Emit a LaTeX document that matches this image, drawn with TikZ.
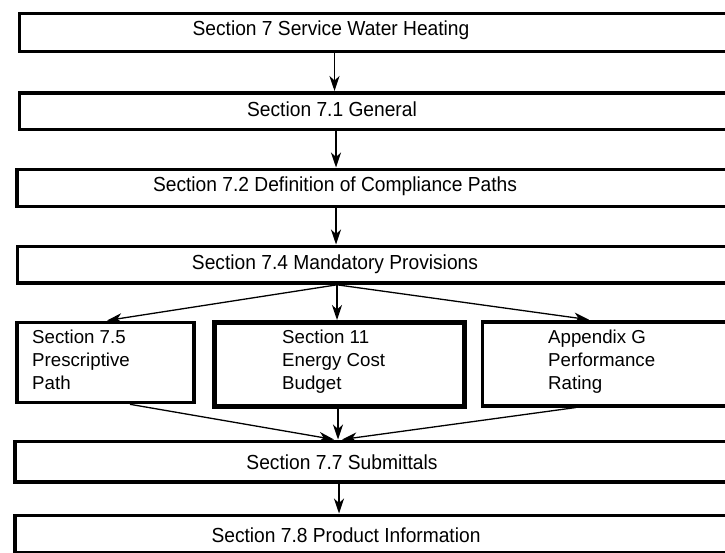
\documentclass[tikz,border=0pt]{standalone}
\usepackage{fontspec}
\setmainfont{Liberation Sans}
\usetikzlibrary{arrows.meta}
\begin{document}
\begin{tikzpicture}[x=1pt,y=-1pt,
  frame/.style={draw=black,line width=3.8pt,inner sep=0pt,anchor=north west,fill=white},
  heavyframe/.style={frame,line width=5pt},
  label/.style={inner sep=0pt,font=\fontsize{19.2pt}{23pt}\selectfont,yscale=1.06},
  stack/.style={inner sep=0pt,font=\fontsize{18.7pt}{23pt}\selectfont,align=left,anchor=north west},
  arr/.style={draw=black,line width=1.3pt,-{Stealth[length=15pt,width=10pt,inset=4.5pt]}}]
\useasboundingbox (0,0) rectangle (725,552);
\clip (0,0) rectangle (725,552);
% full-width stages (they run past the right edge)
\node[frame,minimum width=760pt,minimum height=38pt] (b1) at (17.5,11.5) {};
\node[frame,minimum width=760pt,minimum height=36.5pt] (b2) at (17.5,91) {};
\node[frame,minimum width=760pt,minimum height=37pt] (b3) at (15,167.5) {};
\node[frame,minimum width=760pt,minimum height=36.5pt] (b4) at (15.5,244.5) {};
\node[frame,minimum width=760pt,minimum height=40.5pt] (b7) at (13.3,439.5) {};
\node[frame,minimum width=760pt,minimum height=37pt] (b8) at (13.3,513.5) {};
% compliance paths
\node[frame,minimum width=177pt,minimum height=80pt] (p1) at (15,320.5) {};
\node[heavyframe,minimum width=250pt,minimum height=83.5pt] (p2) at (211.5,320) {};
\node[frame,minimum width=300pt,minimum height=84pt] (p3) at (480.5,319.7) {};
% texts
\node[label] (t1) at (331,30) {Section 7 Service Water Heating};
\node[label] (t2) at (332,109) {Section 7.1 General};
\node[label] (t3) at (335,186) {Section 7.2 Definition of Compliance Paths};
\node[label] (t4) at (335,264.5) {Section 7.4 Mandatory Provisions};
\node[label] (t7) at (342,462) {Section 7.7 Submittals};
\node[label] (t8) at (346,535) {Section 7.8 Product Information};
\node[stack] (s1) at (32,330) {Section 7.5\\Prescriptive\\Path};
\node[stack] (s2) at (282,330) {Section 11\\Energy Cost\\Budget};
\node[stack] (s3) at (548,330) {Appendix G\\Performance\\Rating};
% connector columns
\coordinate (xa) at (334.5,0);
\coordinate (xb) at (336,0);
\coordinate (xc) at (337,0);
\coordinate (xl) at (107,0);
\coordinate (xr) at (589,0);
\coordinate (yl) at (130,0);
\coordinate (yr) at (576,0);
\coordinate (xd) at (338,0);
\coordinate (xe) at (339,0);
\draw[arr] (xa |- b1.south) -- (xa |- b2.north);
\draw[arr] (xb |- b2.south) -- (xb |- b3.north);
\draw[arr] (xb |- b3.south) -- (xb |- b4.north);
\draw[arr] (xc |- b4.south) -- (xl |- p1.north);
\draw[arr] (xc |- b4.south) -- (xc |- p2.north);
\draw[arr] (xc |- b4.south) -- (xr |- p3.north);
\draw[arr] (yl |- p1.south) -- ([xshift=-4pt]xd |- b7.north);
\draw[arr] (xd |- p2.south) -- (xd |- b7.north);
\draw[arr] (yr |- p3.south) -- ([xshift=4pt]xd |- b7.north);
\draw[arr] (xe |- b7.south) -- (xe |- b8.north);
\end{tikzpicture}
\end{document}
